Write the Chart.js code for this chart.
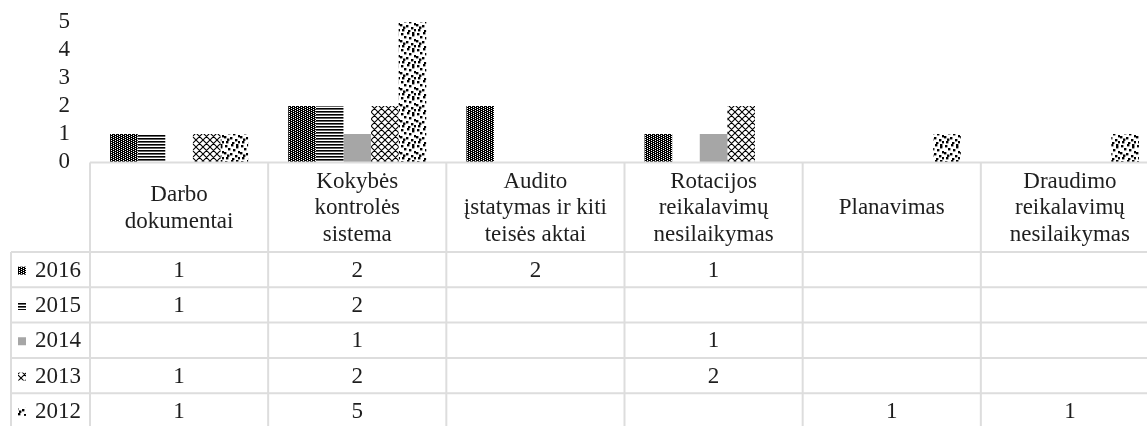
<!DOCTYPE html>
<html>
<head>
<meta charset="utf-8">
<script src="https://cdn.jsdelivr.net/npm/chart.js@4/dist/chart.umd.min.js"></script>
<style>
  html, body { margin: 0; padding: 0; overflow: hidden; background: #fff; }
  #wrap { width: 1160px; height: 426px; }
</style>
</head>
<body>
<div id="wrap"><canvas id="c" width="1160" height="426"></canvas></div>
<script>
// Categories (multi-line header labels of the data table)
const categories = [
  ["Darbo", "dokumentai"],
  ["Kokybės", "kontrolės", "sistema"],
  ["Audito", "įstatymas ir kiti", "teisės aktai"],
  ["Rotacijos", "reikalavimų", "nesilaikymas"],
  ["Planavimas"],
  ["Draudimo", "reikalavimų", "nesilaikymas"]
];
const years = ["2016", "2015", "2014", "2013", "2012"];
const v2016 = [1, 2, 2, 1, null, null];
const v2015 = [1, 2, null, null, null, null];
const v2014 = [null, 1, null, 1, null, null];
const v2013 = [1, 2, null, 2, null, null];
const v2012 = [1, 5, null, null, 1, 1];
const yMin = 0, yMax = 5, yStep = 1;

const FONT = '"Liberation Serif", "Times New Roman", serif';
const TEXT = '#1e1e1e';

// ---- fill patterns ----
function tile(w, h, draw) {
  const c = document.createElement('canvas');
  c.width = w; c.height = h;
  const g = c.getContext('2d');
  g.fillStyle = '#fff'; g.fillRect(0, 0, w, h);
  g.fillStyle = '#000'; g.strokeStyle = '#000';
  draw(g);
  return document.createElement('canvas').getContext('2d').createPattern(c, 'repeat');
}
// dense dark columns with white pin-holes
const pat2016 = tile(4, 4, g => {
  g.fillRect(0, 0, 4, 4);
  g.fillStyle = '#fff';
  g.fillRect(1, 1, 1, 1);
  g.fillRect(3, 0, 1, 1);
  g.fillRect(1, 3, 1, 1);
  g.fillRect(3, 2, 1, 1);
});
// horizontal lines
const pat2015 = tile(4, 3, g => { g.fillRect(0, 0, 4, 1.6); });
// solid grey
const pat2014 = '#a6a6a6';
// outlined diamond lattice
const pat2013 = tile(7, 7, g => {
  g.lineWidth = 1.1;
  g.beginPath();
  g.moveTo(0, 0); g.lineTo(7, 7);
  g.moveTo(7, 0); g.lineTo(0, 7);
  g.moveTo(-1, 6); g.lineTo(1, 8);
  g.moveTo(6, -1); g.lineTo(8, 1);
  g.stroke();
});
// confetti squares
const pat2012 = tile(16, 16, g => {
  [[1,1],[7,0],[12,2],[4,4],[9,5],[14,7],[0,8],[6,9],[11,11],[2,13],[8,14],[14,13],[3,10.5],[12,0]]
    .forEach(([x, y]) => g.fillRect(x, y, 2.4, 2.4));
});

const series = [v2016, v2015, v2014, v2013, v2012];
const fills = [pat2016, pat2015, pat2014, pat2013, pat2012];

// ---- data table drawn under the plot, aligned to the category scale ----
const dataTable = {
  id: 'dataTable',
  afterDraw(chart) {
    const ctx = chart.ctx;
    const xs = chart.scales.x;
    const n = chart.data.labels.length;
    const colW = (xs.right - xs.left) / n;
    const top = chart.chartArea.bottom + 0.5;
    const headH = 89.5;
    const rowH = 35.3;
    const headBottom = top + headH;
    const ds = chart.data.datasets;
    const bottom = headBottom + ds.length * rowH;
    const keyLeft = 11;

    ctx.save();
    ctx.strokeStyle = '#dddddd';
    ctx.lineWidth = 2;
    const line = (x1, y1, x2, y2) => { ctx.beginPath(); ctx.moveTo(x1, y1); ctx.lineTo(x2, y2); ctx.stroke(); };
    line(xs.left, top, xs.right, top);
    for (let r = 0; r <= ds.length; r++) {
      const y = headBottom + r * rowH;
      line(keyLeft, y, xs.right, y);
    }
    line(keyLeft, headBottom, keyLeft, bottom);
    for (let i = 0; i <= n; i++) {
      const x = xs.left + i * colW;
      line(x, top, x, bottom);
    }

    ctx.fillStyle = TEXT;
    ctx.font = '23px ' + FONT;
    ctx.textAlign = 'center';
    ctx.textBaseline = 'middle';
    const lineH = 26.7;
    chart.data.labels.forEach((lab, i) => {
      const lines = Array.isArray(lab) ? lab : [lab];
      const cx = xs.getPixelForValue(i);
      const cy = (top + headBottom) / 2 + 1;
      lines.forEach((t, k) => {
        ctx.fillText(t, cx, cy + (k - (lines.length - 1) / 2) * lineH);
      });
    });

    ds.forEach((d, r) => {
      const cy = headBottom + r * rowH + rowH / 2 + 1;
      ctx.fillStyle = d.backgroundColor;
      ctx.fillRect(18, cy - 4, 8, 8);
      ctx.fillStyle = TEXT;
      ctx.textAlign = 'left';
      ctx.fillText(d.label, 35, cy);
      ctx.textAlign = 'center';
      d.data.forEach((v, i) => {
        if (v !== null && v !== undefined) ctx.fillText(String(v), xs.getPixelForValue(i), cy);
      });
    });
    ctx.restore();
  }
};

new Chart(document.getElementById('c'), {
  type: 'bar',
  data: {
    labels: categories,
    datasets: years.map((y, k) => ({
      label: y,
      data: series[k],
      backgroundColor: fills[k],
      borderWidth: 0,
      categoryPercentage: 0.775,
      barPercentage: 1.0
    }))
  },
  options: {
    responsive: false,
    animation: false,
    events: [],
    layout: { padding: { top: 22, right: 1, bottom: 264, left: 0 } },
    plugins: { legend: { display: false }, tooltip: { enabled: false } },
    scales: {
      x: { display: false },
      y: {
        min: yMin, max: yMax,
        grid: { display: false, drawTicks: false },
        border: { display: false },
        ticks: {
          stepSize: yStep, autoSkip: false, padding: 20, color: TEXT,
          font: { family: FONT, size: 23 }
        },
        afterFit(axis) {
          axis.width = 90;
          axis.paddingTop = 0;
          axis.paddingBottom = 0;
        }
      }
    }
  },
  plugins: [dataTable]
});
</script>
</body>
</html>
